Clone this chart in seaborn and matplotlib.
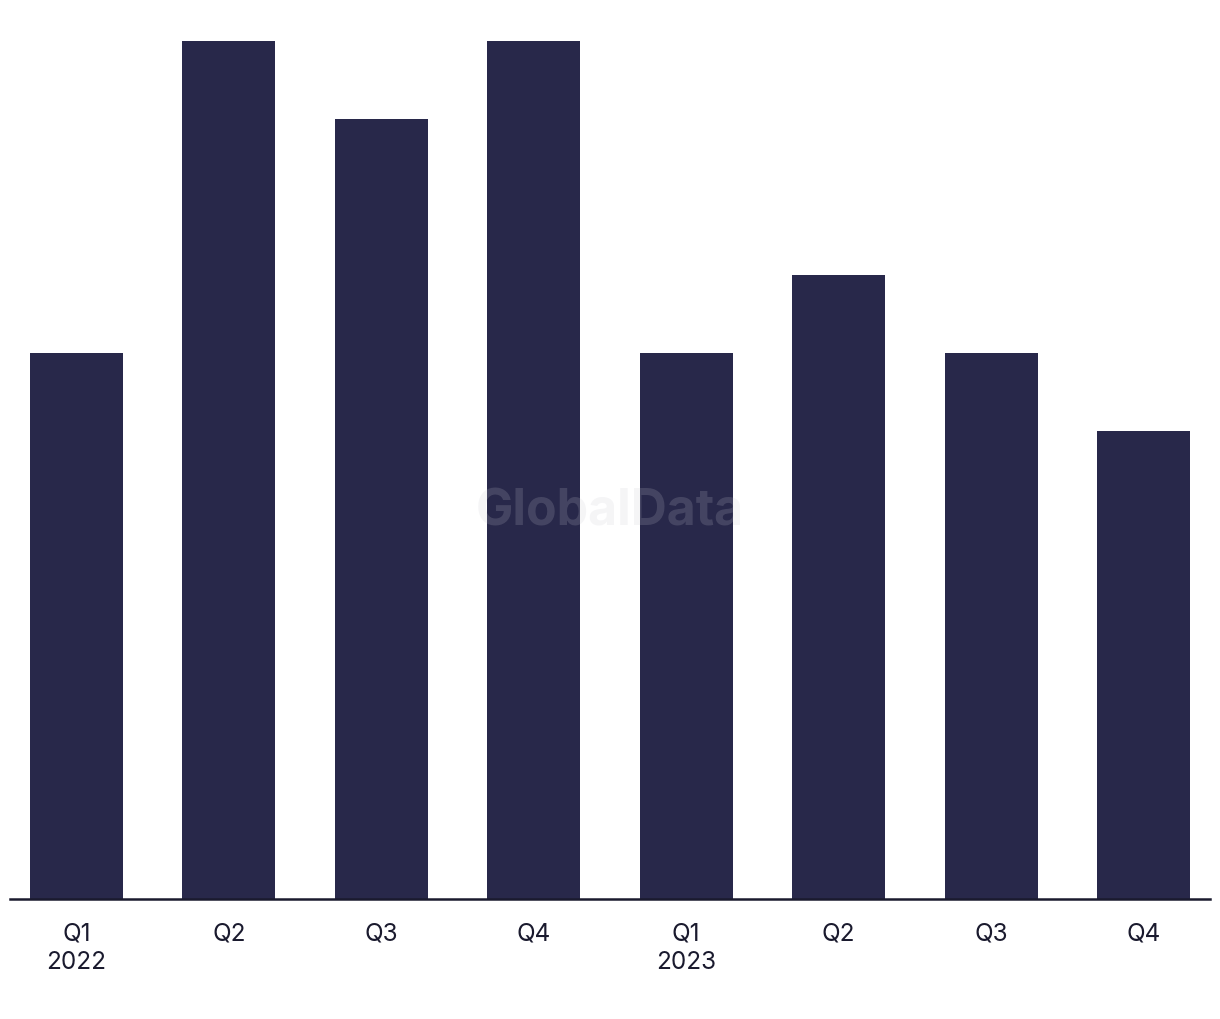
import matplotlib
matplotlib.use("Agg")
import matplotlib.pyplot as plt
import seaborn as sns
import pandas as pd

periods = ["2022Q1", "2022Q2", "2022Q3", "2022Q4", "2023Q1", "2023Q2", "2023Q3", "2023Q4"]
tick_labels = ["Q1\n2022", "Q2", "Q3", "Q4", "Q1\n2023", "Q2", "Q3", "Q4"]
values = [7, 11, 10, 11, 7, 8, 7, 6]

df = pd.DataFrame({"period": periods, "value": values})

sns.set_style("white")
plt.rcParams["font.family"] = ["Inter", "DejaVu Sans"]

fig = plt.figure(figsize=(12.2, 10.2), dpi=100)
ax = fig.add_axes([10 / 1220, 120 / 1020, 1200 / 1220, 858 / 1020])

sns.barplot(data=df, x="period", y="value", color="#28284a", saturation=1,
            width=0.61, linewidth=0, ax=ax)

ax.set_xlim(-0.436, 7.436)
ax.set_ylim(0, 11)
ax.set_xlabel("")
ax.set_ylabel("")
ax.set_yticks([])
ax.set_xticks(range(len(tick_labels)))
ax.set_xticklabels(tick_labels)
for s in ["top", "right", "left"]:
    ax.spines[s].set_visible(False)
ax.spines["bottom"].set_color("#1a1a2e")
ax.spines["bottom"].set_linewidth(1.8)
ax.tick_params(axis="x", length=0, pad=16, labelsize=17.5, labelcolor="#1a1a2e")
for lbl in ax.get_xticklabels():
    lbl.set_linespacing(1.3)
    lbl.set_verticalalignment("top")

fig.text(0.5, 1 - 512 / 1020, "GlobalData", ha="center", va="center",
         fontsize=36, fontweight="bold", color="#c8c8d2", alpha=0.18)

fig.savefig("out.png", dpi=100, facecolor="white")
